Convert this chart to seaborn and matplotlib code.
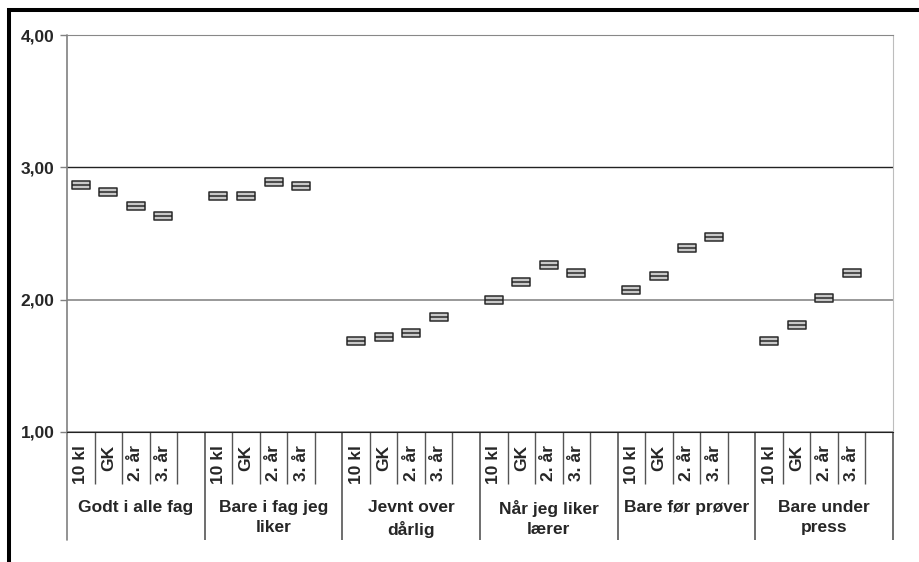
import matplotlib
matplotlib.use("Agg")
import matplotlib.pyplot as plt
from matplotlib.path import Path
from matplotlib.patches import Rectangle
import pandas as pd
import seaborn as sns

# Données
grupper = ["Godt i alle fag", "Bare i fag jeg\nliker", "Jevnt over\ndårlig",
           "Når jeg liker\nlærer", "Bare før prøver", "Bare under\npress"]
trinn = ["10 kl", "GK", "2. år", "3. år"]
godt_i_alle_fag = [2.87, 2.81, 2.71, 2.63]
bare_i_fag_jeg_liker = [2.78, 2.78, 2.89, 2.86]
jevnt_over_darlig = [1.69, 1.72, 1.75, 1.87]
nar_jeg_liker_laerer = [2.00, 2.13, 2.26, 2.20]
bare_for_prover = [2.07, 2.18, 2.39, 2.47]
bare_under_press = [1.69, 1.81, 2.01, 2.20]
y_ticks = [1, 2, 3, 4]
y_labels = ["1,00", "2,00", "3,00", "4,00"]

verdier = [godt_i_alle_fag, bare_i_fag_jeg_liker, jevnt_over_darlig,
           nar_jeg_liker_laerer, bare_for_prover, bare_under_press]

slots = len(trinn) + 1  # une case vide après chaque groupe
rows = []
for g, vals in enumerate(verdier):
    for s, v in enumerate(vals):
        rows.append({"gruppe": grupper[g], "trinn": trinn[s],
                     "pos": g * slots + s + 0.5, "verdi": v})
df = pd.DataFrame(rows)

sns.set_style("white")
plt.rcParams["font.family"] = ["Liberation Sans", "DejaVu Sans"]
plt.rcParams["font.weight"] = "bold"
fs = 12.5

fig = plt.figure(figsize=(9.19, 5.62), dpi=100)
ax = fig.add_axes([67 / 919, 1 - 432 / 562, (893 - 67) / 919, (432 - 35) / 562])

# marqueur : petite boîte avec un trait au milieu
boks = Path([(-1, -0.47), (1, -0.47), (1, 0.47), (-1, 0.47), (-1, -0.47), (-1, 0), (1, 0)],
            [Path.MOVETO, Path.LINETO, Path.LINETO, Path.LINETO, Path.CLOSEPOLY,
             Path.MOVETO, Path.LINETO])
sns.scatterplot(data=df, x="pos", y="verdi", marker=boks, s=160, color="#c8c8c8",
                edgecolor="#2a2a2a", linewidth=1.1, ax=ax, zorder=3, legend=False)

ax.set_xlim(0, len(grupper) * slots)
ax.set_ylim(1, 4)
ax.set_xticks([])
ax.set_yticks(y_ticks)
ax.set_yticklabels(y_labels, fontsize=fs, fontweight="bold")
ax.tick_params(axis="y", length=5, width=1, color="#808080", pad=4, left=True)
ax.set_xlabel("")
ax.set_ylabel("")

ax.grid(axis="y", color="#888888", linewidth=1.2)
ax.get_ygridlines()[2].set_color("#222222")
ax.get_ygridlines()[2].set_linewidth(1.0)

for side in ["top", "right"]:
    ax.spines[side].set_color("#bdbdbd")
ax.spines["top"].set_color("#888888")
ax.spines["bottom"].set_color("#222222")
ax.spines["left"].set_visible(False)

xt = ax.get_xaxis_transform()
# axe vertical gauche prolongé sous le graphique
ax.plot([0, 0], [-0.272, 1], transform=xt, color="#808080", lw=1.2, clip_on=False)

for g, navn in enumerate(grupper):
    start = g * slots
    ax.vlines(start + slots, -0.272, 0, transform=xt, color="#555555", lw=1.2, clip_on=False)
    for s in range(1, slots):
        ax.vlines(start + s, -0.13, 0, transform=xt, color="#555555", lw=1.0, clip_on=False)
    for s, t in enumerate(trinn):
        ax.text(start + s + 0.5, -0.033, t, transform=xt, rotation=90, ha="center",
                va="top", fontsize=fs, fontweight="bold")
    ax.text(start + slots / 2, -0.172, navn, transform=xt, ha="center", va="top",
            fontsize=fs, fontweight="bold", linespacing=1.4)

# cadre noir extérieur
fig.patches.append(Rectangle((8.5 / 919, -0.2), 1.2, 1.2 - 9.5 / 562,
                             transform=fig.transFigure, fill=False, edgecolor="black",
                             linewidth=2.9, figure=fig))

fig.savefig("out.png", dpi=100)
